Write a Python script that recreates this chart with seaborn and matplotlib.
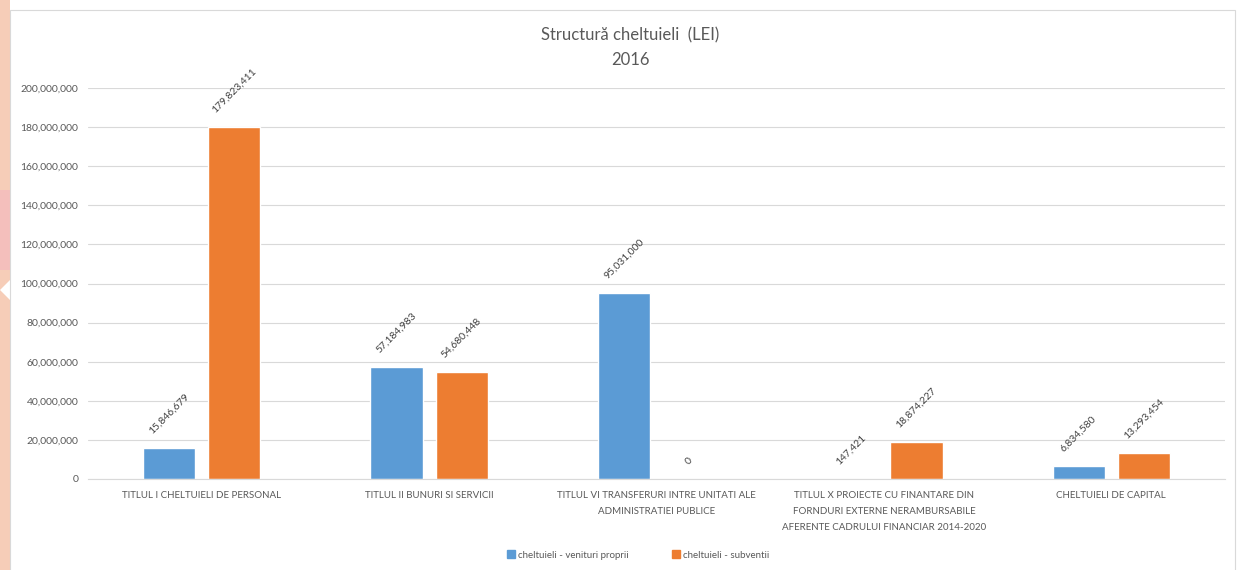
import matplotlib
matplotlib.use("Agg")
import matplotlib.pyplot as plt
import matplotlib.patches as mpatches
import matplotlib.ticker as mticker
import seaborn as sns
import pandas as pd

categories = [
    "TITLUL I CHELTUIELI DE PERSONAL",
    "TITLUL II BUNURI SI SERVICII",
    "TITLUL VI TRANSFERURI INTRE UNITATI ALE\nADMINISTRATIEI PUBLICE",
    "TITLUL X PROIECTE CU FINANTARE DIN\nFORNDURI EXTERNE NERAMBURSABILE\nAFERENTE CADRULUI FINANCIAR 2014-2020",
    "CHELTUIELI DE CAPITAL",
]
series_names = ["cheltuieli - venituri proprii", "cheltuieli - subventii"]
venituri_proprii = [15846679, 57184983, 95031000, 147421, 6834580]
subventii = [179823411, 54680448, 0, 18874227, 13293454]
yticks = [0, 20e6, 40e6, 60e6, 80e6, 100e6, 120e6, 140e6, 160e6, 180e6, 200e6]

colors = ["#5B9BD5", "#ED7D31"]
txt = "#595959"

sns.set_theme(style="white")
plt.rcParams["font.family"] = ["Lato", "DejaVu Sans"]

df = pd.DataFrame({
    "cat": categories * 2,
    "serie": [series_names[0]] * 5 + [series_names[1]] * 5,
    "val": venituri_proprii + subventii,
})

fig = plt.figure(figsize=(12.41, 5.70), dpi=100)
fig.patch.set_facecolor("white")

# background: decorative left strip and chart frame
bg = fig.add_axes([0, 0, 1, 1], zorder=-10)
bg.set_xlim(0, 1241)
bg.set_ylim(570, 0)
bg.axis("off")
bg.add_patch(mpatches.Rectangle((0, 0), 10, 570, facecolor="#F6CDB8", edgecolor="none"))
bg.add_patch(mpatches.Polygon([(0, 290), (10, 280), (10, 300)], facecolor="white", edgecolor="none"))
bg.add_patch(mpatches.Rectangle((0, 190), 10, 80, facecolor="#F4BFBC", edgecolor="none"))
bg.add_patch(mpatches.Rectangle((10, 10), 1225, 570, facecolor="white", edgecolor="#D9D9D9",
                                linewidth=0.8))

ax = fig.add_axes([88 / 1241, (570 - 479) / 570, (1225 - 88) / 1241, (479 - 88) / 570])
ax.set_facecolor("none")
sns.barplot(data=df, x="cat", y="val", hue="serie", palette=colors, width=0.573, gap=0.2,
            ax=ax, legend=False, saturation=1)

ax.set_ylim(0, 200e6)
ax.set_xlim(-0.5, 4.5)
ax.set_yticks(yticks)
ax.yaxis.set_major_formatter(mticker.FuncFormatter(lambda v, p: f"{int(v):,}"))
ax.grid(axis="y", color="#D9D9D9", linewidth=0.8)
ax.set_axisbelow(True)
for s in ["top", "right", "left"]:
    ax.spines[s].set_visible(False)
ax.spines["bottom"].set_color("#D9D9D9")
ax.spines["bottom"].set_linewidth(0.8)
ax.tick_params(axis="y", length=0, pad=7, labelsize=7.5, colors=txt)
ax.tick_params(axis="x", length=0, pad=9, labelsize=7, colors=txt)
ax.set_xlabel("")
ax.set_ylabel("")
for lab in ax.get_xticklabels():
    lab.set_linespacing(2.0)
    lab.set_va("top")

for cont in ax.containers:
    for rect in cont:
        h = rect.get_height()
        x = rect.get_x() + rect.get_width() / 2
        ax.annotate(f"{int(round(h)):,}", (x, h), xytext=(0, 9), textcoords="offset points",
                    ha="center", va="bottom", rotation=45, fontsize=7.5, color="#404040",
                    annotation_clip=False)

fig.text(630 / 1241, 1 - 35 / 570, "Structură cheltuieli  (LEI)", ha="center", va="center",
         fontsize=12, color=txt)
fig.text(630 / 1241, 1 - 60 / 570, "2016", ha="center", va="center", fontsize=12, color=txt)

handles = [mpatches.Patch(color=c, label=n) for c, n in zip(colors, series_names)]
fig.legend(handles=handles, loc="center", bbox_to_anchor=(0.514, 1 - 555 / 570), ncol=2,
           frameon=False, fontsize=7, labelcolor=txt, handlelength=0.8, handleheight=0.8,
           handletextpad=0.3, columnspacing=4.5)

fig.savefig("out.png", dpi=100)
